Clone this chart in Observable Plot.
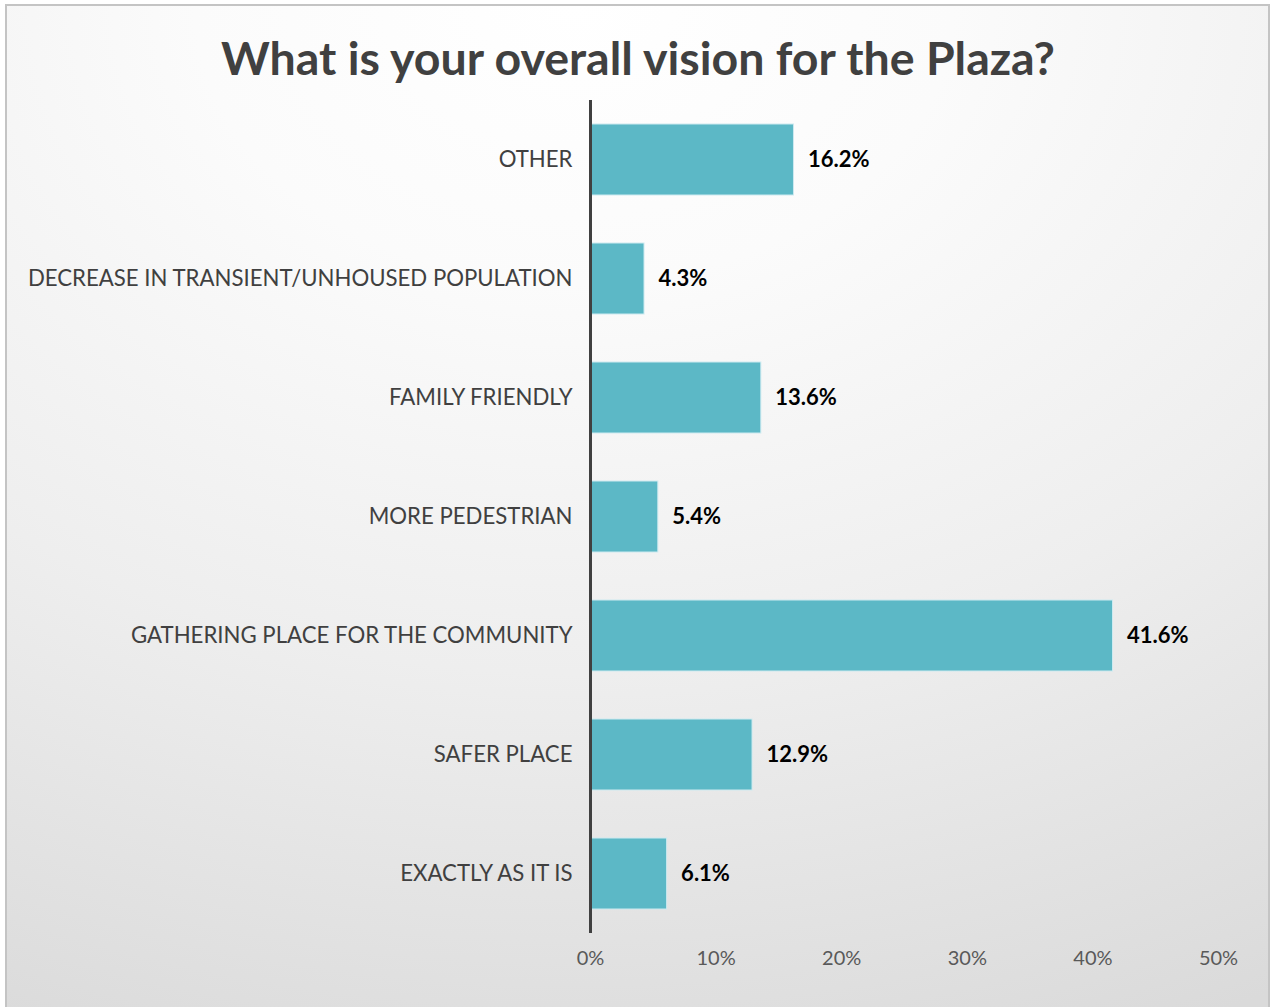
<!DOCTYPE html>
<html>
<head>
<meta charset="utf-8">
<script src="https://cdn.jsdelivr.net/npm/d3@7"></script>
<script src="https://cdn.jsdelivr.net/npm/@observablehq/plot@0.6"></script>
<style>
  html, body { margin: 0; padding: 0; width: 1270px; height: 1007px; overflow: hidden; background: #ffffff; }
  #frame {
    position: absolute; left: 5px; top: 4px; width: 1261px; height: 1010px;
    border: 2px solid #c4c4c4;
    background: radial-gradient(ellipse 120% 110% at 45% 0%, #ffffff 0%, #fbfbfb 25%, #eeeeee 60%, #dadada 100%);
  }
  #title {
    position: absolute; left: 0; top: 34px; width: 1276px; text-align: center;
    font-family: Lato, "Open Sans", sans-serif; font-weight: 700; font-size: 46.5px;
    color: #404040; line-height: 1; white-space: nowrap;
  }
  #chart { position: absolute; left: 0; top: 95px; }
</style>
</head>
<body>
<div id="frame"></div>
<div id="title">What is your overall vision for the Plaza?</div>
<div id="chart"></div>
<script>
const categories = [
  "OTHER",
  "DECREASE IN TRANSIENT/UNHOUSED POPULATION",
  "FAMILY FRIENDLY",
  "MORE PEDESTRIAN",
  "GATHERING PLACE FOR THE COMMUNITY",
  "SAFER PLACE",
  "EXACTLY AS IT IS"
];
const values = [16.2, 4.3, 13.6, 5.4, 41.6, 12.9, 6.1];
const xTicks = [0, 10, 20, 30, 40, 50];

const data = categories.map((c, i) => ({ category: c, value: values[i] }));

const chart = Plot.plot({
  width: 1270,
  height: 900,
  marginLeft: 590,
  marginRight: 52,
  marginTop: 5,
  marginBottom: 62,
  style: { background: "transparent", overflow: "visible" },
  x: { domain: [0, 50], ticks: xTicks, tickFormat: d => d + "%" },
  y: { domain: categories, paddingInner: 0.405, paddingOuter: 0.2025 },
  marks: [
    Plot.barX(data, { x: "value", y: "category", fill: "#5cb8c6", stroke: "#cdeaf0", strokeWidth: 1 }),
    Plot.ruleX([0], { stroke: "#404040", strokeWidth: 3 }),
    Plot.text(data, {
      x: "value", y: "category", text: d => d.value.toFixed(1) + "%",
      textAnchor: "start", dx: 14, fill: "#000000",
      fontSize: 22, fontWeight: "bold", fontFamily: "Lato, 'Open Sans', sans-serif"
    }),
    Plot.axisY({
      tickSize: 0, tickPadding: 18, label: null,
      fontSize: 22.2, fontFamily: "Lato, 'Open Sans', sans-serif", fill: "#404040"
    }),
    Plot.axisX({
      ticks: xTicks, tickFormat: d => d + "%", tickSize: 0, tickPadding: 17, label: null,
      fontSize: 20, fontFamily: "Lato, 'Open Sans', sans-serif", fill: "#595959"
    })
  ]
});
document.getElementById("chart").appendChild(chart);
</script>
</body>
</html>
